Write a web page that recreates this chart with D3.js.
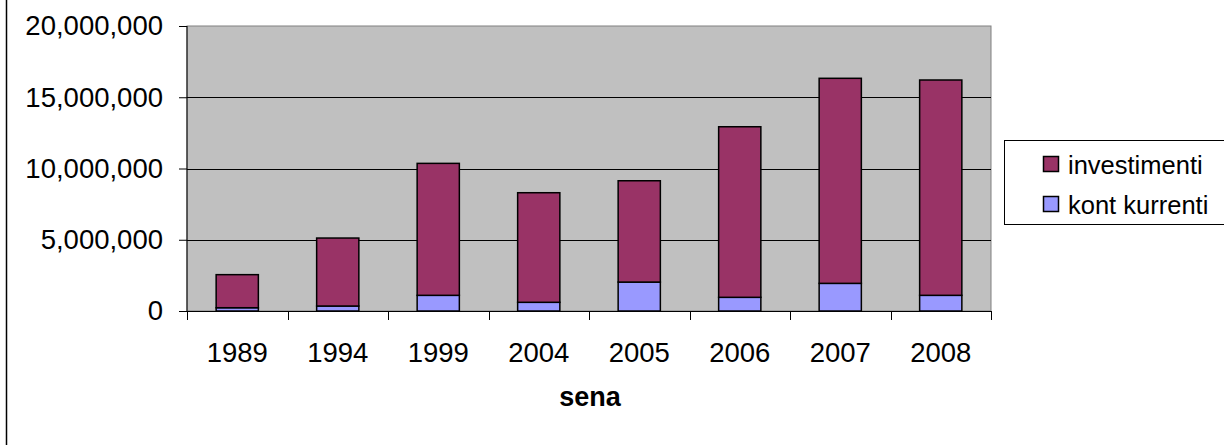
<!DOCTYPE html>
<html><head><meta charset="utf-8">
<script src="https://cdn.jsdelivr.net/npm/d3@7"></script>
<style>body{margin:0;background:#fff}svg{display:block;font-family:"Liberation Sans",Arial,sans-serif}</style>
</head><body>
<svg id="c" width="1224" height="445"></svg>
<script>
const categories = ["1989","1994","1999","2004","2005","2006","2007","2008"];
const kontKurrenti = [230000, 350000, 1100000, 610000, 2030000, 960000, 1940000, 1100000];
const investimenti = [2320000, 4770000, 9260000, 7690000, 7110000, 11970000, 14390000, 15110000];
const yTicks = [0, 5000000, 10000000, 15000000, 20000000];
const seriesNames = ["kont kurrenti", "investimenti"];
const colors = {"investimenti":"#993366","kont kurrenti":"#9999FF"};

const svg = d3.select("#c");
const L=187, R=991, T=26, B=311;
const x = d3.scaleBand().domain(categories).range([L,R]).paddingInner(0.58).paddingOuter(0.29);
const xb = d3.scaleBand().domain(categories).range([L,R]);
const y = d3.scaleLinear().domain([0,20000000]).range([B,T]);

// outer left border
svg.append("line").attr("x1",6.5).attr("x2",6.5).attr("y1",0).attr("y2",445).attr("stroke","#000").attr("stroke-width",1.5);

// plot bg
svg.append("rect").attr("x",L).attr("y",T).attr("width",R-L).attr("height",B-T).attr("fill","#C0C0C0").attr("stroke","#808080").attr("stroke-width",1);

// gridlines
svg.append("g").selectAll("line").data(yTicks.filter(d=>d>0 && d<20000000)).join("line")
  .attr("x1",L).attr("x2",R).attr("y1",d=>Math.round(y(d))+0.5).attr("y2",d=>Math.round(y(d))+0.5)
  .attr("stroke","#000").attr("stroke-width",1);

// stacked bars
const rows = categories.map((c,i)=>({cat:c,"kont kurrenti":kontKurrenti[i],"investimenti":investimenti[i]}));
const stack = d3.stack().keys(seriesNames)(rows);
svg.append("g").selectAll("g").data(stack).join("g").attr("fill",d=>colors[d.key])
  .selectAll("rect").data(d=>d).join("rect")
  .attr("x",d=>x(d.data.cat)).attr("width",x.bandwidth())
  .attr("y",d=>y(d[1])).attr("height",d=>y(d[0])-y(d[1]))
  .attr("stroke","#000").attr("stroke-width",1.5);

// y axis
const ya = svg.append("g").attr("transform",`translate(${L},0)`)
  .call(d3.axisLeft(y).tickValues(yTicks).tickSize(8).tickPadding(16).tickFormat(d3.format(",")));
ya.select(".domain").attr("stroke","#000").attr("d",`M0,${T}V${B}`);
ya.selectAll(".tick line").attr("stroke","#000");
ya.selectAll("text").attr("font-size","27.5px").attr("fill","#000").attr("font-family","'Liberation Sans',Arial,sans-serif");

// x axis
const xa = svg.append("g").attr("transform",`translate(0,${B})`);
xa.append("line").attr("x1",L-8).attr("x2",R).attr("y1",0.5).attr("y2",0.5).attr("stroke","#000");
xa.selectAll(".tk").data(categories.concat(["_end"])).join("line")
  .attr("x1",(d,i)=>Math.round(L+i*xb.bandwidth())+0.5).attr("x2",(d,i)=>Math.round(L+i*xb.bandwidth())+0.5)
  .attr("y1",0).attr("y2",9).attr("stroke","#000");
xa.selectAll("text").data(categories).join("text")
  .attr("x",d=>xb(d)+xb.bandwidth()/2).attr("y",51).attr("text-anchor","middle")
  .attr("font-size","27.5px").attr("fill","#000").text(d=>d);

svg.append("text").attr("x",590).attr("y",406).attr("text-anchor","middle")
  .attr("font-size","27px").attr("font-weight","bold").text("sena");

// legend
const lg = svg.append("g");
lg.append("rect").attr("x",1004.5).attr("y",140.5).attr("width",230).attr("height",84).attr("fill","#fff").attr("stroke","#000");
["investimenti","kont kurrenti"].forEach((k,i)=>{
  const cy = 164 + i*40;
  lg.append("rect").attr("x",1043.5).attr("y",cy-7.5).attr("width",15).attr("height",15).attr("fill",colors[k]).attr("stroke","#000").attr("stroke-width",1.5);
  lg.append("text").attr("x",1068).attr("y",cy+9.5).attr("font-size","25.5px").attr("fill","#000").text(k);
});
</script>
</body></html>
